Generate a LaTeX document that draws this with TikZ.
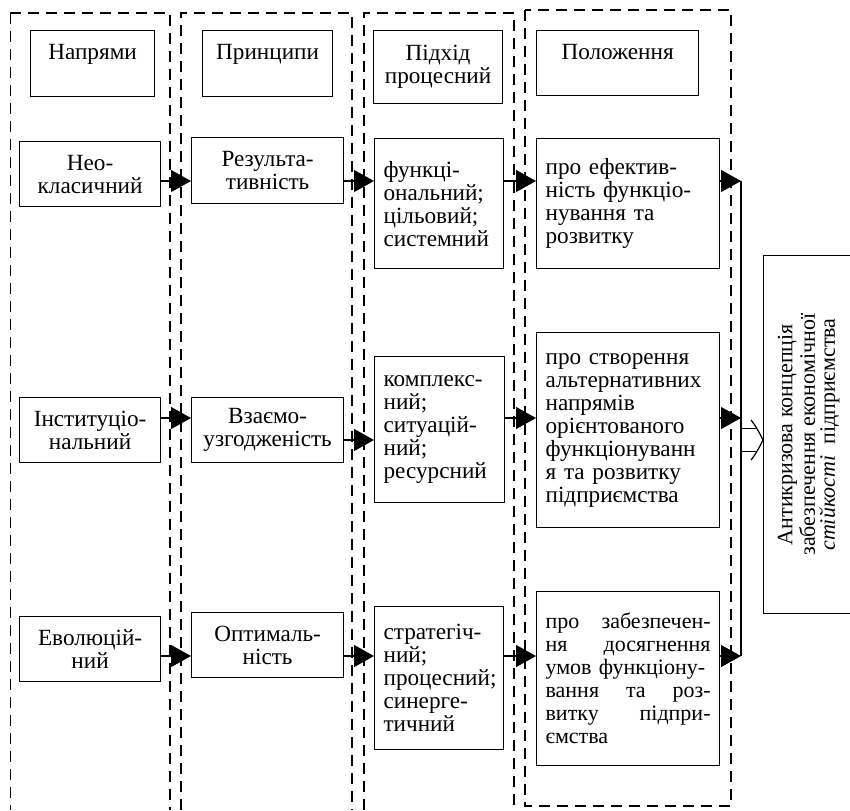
\documentclass[tikz,border=0pt]{standalone}
\usepackage{fontspec}
\setmainfont{Liberation Serif}
\usetikzlibrary{arrows.meta,positioning}
\tikzset{
  col frame/.style={line width=1.4pt, dash pattern=on 5.5pt off 3.5pt},
  col edge/.style={line width=0.5pt, dash pattern=on 5.5pt off 3.5pt},
  boxc/.style 2 args={
    draw,
    line width=0.6pt,
    anchor=north west,
    minimum width=#1,
    minimum height=#2,
    text width=#1-9pt,
    inner xsep=4.5pt,
    inner ysep=0pt,
    align=center,
    font=\fontsize{11.6}{11.5}\selectfont
  },
  boxl/.style 2 args={
    boxc={#1}{#2},
    align=left
  },
  flow/.style={
    -{Triangle[length=10pt,width=11pt]},
    line width=0.6pt
  }
}

\begin{document}
\begin{tikzpicture}[x=0.5pt,y=-0.5pt]
  \useasboundingbox (0,0) rectangle (850,810);

  % dashed columns
  \draw[col edge] (10,13) -- (10,810);
  \draw[col frame] (10,13) -- (170,13) -- (170,810);
  \draw[col frame] (181,810) -- (181,13) -- (352,13) -- (352,810);
  \draw[col frame] (364,810) -- (364,13) -- (514,13) -- (514,810);
  \draw[col frame] (525,10) rectangle (731,806);

  % headers
  \node[boxc={62pt}{33pt}] (hnapr) at (30,30) {Напрями\\~};
  \node[boxc={65pt}{33pt}] (hprinc) at (202,30) {Принципи\\~};
  \node[boxc={64.5pt}{36.5pt}] (hpidh) at (373,30) {Підхід\\процесний};
  \node[boxc={81pt}{32.5pt}] (hpol) at (536,30) {Положення\\~};

  % row 1
  \node[boxc={70.5pt}{32.5pt}] (napr1) at (19,141) {Нео-\\класичний};
  \node[boxc={76pt}{33pt}] (princ1) at (191,137) {Результа-\\тивність};
  \node[boxl={64.5pt}{65pt}] (pidh1) at (374,138) {функці-\\ональний;\\цільовий;\\системний};
  \node[boxl={91.5pt}{65pt}] (pol1) at (536,138) {про ефектив-\\ність функціо-\\нування та\\розвитку};

  % row 2
  \node[boxc={70.5pt}{32.5pt}] (napr2) at (19,397) {Інституціо-\\нальний};
  \node[boxc={76pt}{32.5pt}] (princ2) at (191,397) {Взаємо-\\узгодженість};
  \node[boxl={65pt}{73pt}] (pidh2) at (374,356) {комплекс-\\ний;\\ситуацій-\\ний;\\ресурсний};
  \node[boxl={91.5pt}{97.5pt}] (pol2) at (536,332) {про створення\\альтернативних\\напрямів\\орієнтованого\\функціонуванн\\я та розвитку\\підприємства};

  % row 3
  \node[boxc={70.5pt}{32.5pt}] (napr3) at (19,616) {Еволюцій-\\ний};
  \node[boxc={76pt}{32.5pt}] (princ3) at (191,612) {Оптималь-\\ність};
  \node[boxl={64.5pt}{71.5pt}] (pidh3) at (374,606) {стратегіч-\\ний;\\процесний;\\синерге-\\тичний};
  \node[boxl={91.5pt}{87pt}, font=\fontsize{11}{11.5}\selectfont] (pol3) at (536,591) {про\hfill забезпечен-\\ня\hfill досягнення\\умов функціону-\\вання\hfill та\hfill роз-\\витку\hfill підпри-\\ємства};

  % result
  \node[draw, line width=0.6pt, rotate=90, anchor=north east,
        minimum width=179pt, minimum height=45pt, inner sep=0pt,
        align=center, font=\fontsize{11}{10}\selectfont] (concept) at (763,255)
        {Антикризова концепція\\забезпечення економічної\\\textit{стійкості}\ \ підприємства};

  % bus
  \coordinate (bus1) at (741,181);
  \coordinate (bus2) at (741,418);
  \coordinate (busm) at (741,440);
  \coordinate (bus3) at (741,656);
  \draw[line width=0.6pt] (bus1) -- (bus3);

  % connections
  \draw[flow] (napr1.east |- bus1) -- (princ1.west |- bus1);
  \draw[flow] (princ1.east |- bus1) -- (pidh1.west |- bus1);
  \draw[flow] (pidh1.east |- bus1) -- (pol1.west |- bus1);
  \draw[flow] (pol1.east |- bus1) -- (bus1);

  \draw[flow] (napr2.east |- bus2) -- (princ2.west |- bus2);
  \draw[flow] (princ2.east |- busm) -- (pidh2.west |- busm);
  \draw[flow] (pidh2.east |- bus2) -- (pol2.west |- bus2);
  \draw[flow] (pol2.east |- bus2) -- (bus2);

  \draw[flow] (napr3.east |- bus3) -- (princ3.west |- bus3);
  \draw[flow] (princ3.east |- bus3) -- (pidh3.west |- bus3);
  \draw[flow] (pidh3.east |- bus3) -- (pol3.west |- bus3);
  \draw[flow] (pol3.east |- bus3) -- (bus3);

  % double arrow to the result
  \coordinate (tip) at (concept.north |- busm);
  \draw[line width=0.6pt] (busm) ++(0,-11.5) -- ++(16,0);
  \draw[line width=0.6pt] (busm) ++(0,11.5) -- ++(16,0);
  \draw[line width=0.6pt] (tip) ++(-12,-20) .. controls +(5,6) and +(-3,-6) .. (tip)
    .. controls +(-3,6) and +(5,-6) .. ++(-12,20);

\end{tikzpicture}
\end{document}
